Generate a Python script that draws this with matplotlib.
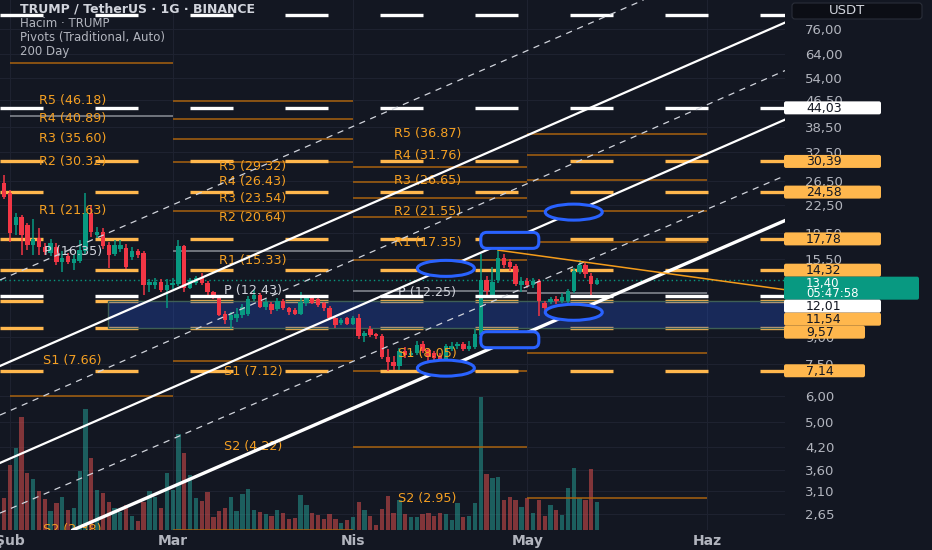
import numpy as np
import matplotlib
matplotlib.use("Agg")
import matplotlib.pyplot as plt
from matplotlib.patches import FancyBboxPatch, Ellipse, Rectangle
from matplotlib.transforms import IdentityTransform
from matplotlib.ticker import NullLocator, NullFormatter

# ---------------- data ----------------
first_day = -1  # first candle, days counted from 1 Feb 2025

opens = [26.2, 24.5, 19.6, 20.7, 19.6, 17.05, 17.9, 16.8, 16.1, 16.8, 15.2, 15.8, 15.0, 15.3, 16.3,
         21.3, 18.3, 18.7, 17.1, 16.0, 16.6, 16.7, 15.7, 16.4, 16.1, 12.9, 12.9, 13.2, 12.5, 12.9,
         13.0, 16.9, 12.7, 13.1, 13.6, 13.1, 12.3, 11.9, 10.6, 10.15, 10.3, 10.5, 10.6, 11.75, 12.06,
         11.1, 11.35, 10.95, 11.55, 11.0, 10.9, 10.6, 11.4, 11.8, 11.7, 11.4, 11.05, 10.3, 9.95, 10.25,
         9.9, 10.3, 9.05, 9.5, 9.2, 9.1, 7.85, 7.6, 7.4, 8.2, 7.95, 8.05, 8.6, 8.25, 8.1,
         7.9, 7.7, 8.3, 8.5, 8.6, 8.3, 8.4, 9.15, 13.4, 12.06, 13.4, 15.6, 15.2, 14.7, 12.9,
         13.3, 12.9, 13.3, 11.4, 11.5, 11.7, 11.6, 11.6, 12.4, 14.1, 14.8, 13.8, 13.0]
highs = [27.7, 24.9, 21.2, 21.0, 19.9, 20.4, 19.2, 17.3, 17.8, 17.3, 16.4, 16.1, 15.9, 17.7, 24.5,
         22.5, 19.3, 19.2, 17.4, 17.7, 17.6, 17.2, 16.8, 16.6, 16.3, 13.5, 13.6, 13.5, 13.5, 13.6,
         17.6, 17.1, 13.6, 13.8, 14.0, 13.3, 12.4, 12.0, 10.8, 10.7, 11.0, 11.3, 12.0, 12.5, 12.2,
         11.7, 11.5, 11.8, 11.7, 11.1, 11.0, 12.3, 12.0, 12.0, 11.9, 11.5, 11.2, 10.4, 10.3, 10.35,
         10.45, 10.6, 9.4, 9.7, 9.3, 9.2, 8.3, 7.9, 8.35, 8.4, 8.2, 8.8, 8.8, 8.35, 8.2,
         8.1, 8.6, 8.7, 8.7, 8.7, 8.8, 9.5, 16.0, 13.8, 14.6, 16.45, 16.0, 15.5, 14.9, 13.7,
         13.6, 13.6, 13.5, 11.6, 11.9, 12.0, 12.2, 12.6, 14.5, 15.4, 15.1, 14.0, 13.6]
lows = [23.5, 17.4, 18.3, 15.9, 16.5, 15.9, 15.9, 15.9, 15.8, 14.8, 14.1, 14.9, 14.3, 15.0, 16.0,
        18.0, 17.9, 16.6, 14.5, 15.8, 16.2, 14.4, 15.4, 15.6, 12.1, 12.3, 12.6, 12.3, 11.0, 12.6,
        12.8, 12.3, 12.55, 12.9, 12.9, 12.1, 11.7, 10.4, 9.9, 9.5, 10.0, 10.3, 10.4, 11.6, 11.0,
        10.9, 10.6, 10.8, 10.9, 10.5, 10.5, 10.5, 11.2, 11.3, 11.1, 10.8, 10.2, 9.6, 9.8, 9.8,
        9.8, 8.9, 8.7, 9.0, 8.9, 7.75, 7.14, 7.2, 7.2, 7.8, 7.85, 7.95, 8.1, 7.4, 7.7,
        7.6, 7.6, 8.2, 8.3, 8.2, 8.2, 8.3, 9.0, 11.9, 11.9, 13.1, 14.5, 14.2, 12.8, 12.3,
        12.7, 12.7, 10.4, 10.8, 11.3, 11.3, 11.4, 11.4, 12.2, 13.9, 13.6, 12.1, 12.9]
closes = [23.8, 18.5, 20.7, 18.3, 17.05, 17.8, 16.8, 16.2, 17.3, 15.2, 15.6, 15.2, 15.5, 16.5, 21.3,
          18.6, 18.7, 16.9, 15.9, 17.05, 17.05, 14.6, 16.4, 15.9, 12.9, 13.2, 13.2, 12.5, 12.9, 13.1,
          16.9, 12.7, 13.4, 13.6, 13.1, 12.3, 11.9, 10.5, 10.15, 10.5, 10.6, 11.1, 11.75, 12.06, 11.1,
          11.45, 10.87, 11.55, 11.0, 10.7, 10.6, 11.45, 11.8, 11.4, 11.25, 11.0, 10.3, 9.8, 10.15, 9.9,
          10.3, 9.05, 9.3, 9.15, 9.05, 7.85, 7.6, 7.4, 8.2, 7.95, 8.05, 8.55, 8.2, 7.85, 7.8,
          7.7, 8.5, 8.5, 8.6, 8.3, 8.5, 9.2, 13.4, 12.4, 13.2, 15.6, 14.8, 14.6, 13.0, 13.3,
          12.9, 13.3, 11.6, 11.0, 11.7, 11.6, 11.9, 12.4, 14.2, 14.8, 13.9, 13.0, 13.4]
volumes = [32, 65, 82, 113, 57, 51, 39, 31, 19, 27, 33, 20, 22, 59, 121, 72, 40, 37, 28, 22,
           18, 25, 14, 9, 28, 39, 33, 22, 57, 40, 96, 77, 55, 32, 29, 38, 13, 19, 22, 33,
           19, 36, 41, 20, 18, 16, 14, 20, 17, 11, 12, 35, 25, 17, 15, 11, 16, 11, 7, 10,
           13, 28, 20, 14, 5, 21, 34, 17, 30, 16, 13, 13, 16, 17, 14, 17, 16, 10, 27, 13,
           14, 27, 133, 56, 52, 53, 30, 33, 30, 23, 32, 17, 30, 14, 25, 20, 15, 42, 62, 32,
           30, 61, 28]

month_ticks = [0, 28, 59, 89, 120]
month_labels = ["Şub", "Mar", "Nis", "May", "Haz"]
price_ticks = [76, 64, 54, 46.5, 38.5, 32.5, 26.5, 22.5, 18.5, 15.5, 9, 7.5, 6, 5, 4.2, 3.6, 3.1, 2.65]

pivot_names = ["R5", "R4", "R3", "R2", "R1", "P", "S1", "S2"]
pivot_starts = [0, 28, 59, 89]
pivot_ends = [28, 59, 89, 120]
pivot_feb = [None, None, None, None, 60.1, 41.6, 6.0, None]
pivot_mar = [46.18, 40.89, 35.60, 30.32, 21.63, 16.35, 7.66, 2.38]
pivot_apr = [29.32, 26.43, 23.54, 20.64, 15.33, 12.43, 7.12, 4.22]
pivot_may = [36.87, 31.76, 26.65, 21.55, 17.35, 12.25, 8.05, 2.95]

white_levels = [83.7, 44.03, 12.01]
orange_levels = [30.39, 24.58, 17.78, 14.32, 11.54, 9.57, 7.14]
zone_low, zone_high, zone_start = 9.57, 11.54, 16.9

solid_lines = [((32.7, 13.52), (118.7, 61.4)),
               ((32.7, 6.91), (118.7, 31.37)),
               ((32.7, 3.476), (118.7, 15.63))]
dashed_lines = [((15.5, 18.08), (84.3, 60.27)),
                ((15.5, 7.12), (101.5, 32.49)),
                ((15.5, 3.59), (101.5, 15.88))]
trend_pts = [(84, 16.45), (105, 14.64)]
ellipse_pts = [(75, 14.5), (97, 21.4), (97, 10.7), (75, 7.27)]
capsule_pts = [(86, 17.6), (86, 8.85)]

tag_values = [44.03, 30.39, 24.58, 17.78, 14.32, 12.01, 11.54, 9.57, 7.14]
tag_kinds = ["white", "orange", "orange", "orange", "orange", "white", "orange", "orange_s", "orange_s"]
countdown = "05:47:58"

legend_lines = ["TRUMP / TetherUS · 1G · BINANCE", "Hacim · TRUMP", "Pivots (Traditional, Auto)", "200 Day"]

# ---------------- style ----------------
BG = "#131722"
GRID = "#1e2230"
TXT = "#b2b5be"
GREEN = "#089981"
RED = "#f23645"
VGREEN = (38 / 255, 166 / 255, 154 / 255, 0.5)
VRED = (239 / 255, 83 / 255, 80 / 255, 0.5)
PIV = "#a8620f"
PIV_P = "#8b8e97"
PIV_TXT = "#f5a023"
ORANGE = "#ffb74d"
BLUE = "#2962ff"


def fmt(v):
    return f"{v:.2f}".replace(".", ",")


fig = plt.figure(figsize=(9.32, 5.5), dpi=100, facecolor=BG)
ax = fig.add_axes([0, 20 / 550, 785 / 932, 530 / 550], facecolor=BG)
ax.set_yscale("log")
ax.set_xlim(-1.703, 133.34)
ax.set_ylim(2.372, 92.87)
ax.set_autoscale_on(False)
for s in ax.spines.values():
    s.set_visible(False)

ax.set_xticks(month_ticks)
ax.set_xticklabels(month_labels)
ax.yaxis.tick_right()
ax.set_yticks(price_ticks)
ax.set_yticklabels([fmt(v) for v in price_ticks])
ax.yaxis.set_minor_locator(NullLocator())
ax.yaxis.set_minor_formatter(NullFormatter())
ax.tick_params(axis="y", length=0, pad=14.4, labelsize=9.5, labelcolor=TXT)
ax.tick_params(axis="x", length=0, pad=3, labelsize=10, labelcolor=TXT)
for t in ax.get_xticklabels():
    t.set_fontweight("bold")
ax.grid(True, color=GRID, lw=0.8)
ax.set_axisbelow(True)

days = np.arange(first_day, first_day + len(opens))
O, H, L, C = (np.array(a, dtype=float) for a in (opens, highs, lows, closes))
up = C >= O

# volume
vol = np.array(volumes, dtype=float)
vtop = vol.max() * 530 / 133
ax.bar(days, vol / vtop, width=0.74, bottom=0, color=[VGREEN if u else VRED for u in up],
       transform=ax.get_xaxis_transform(), zorder=1, linewidth=0)

# pivots
table = [pivot_feb, pivot_mar, pivot_apr, pivot_may]
xl = ax.get_xlim()
for start, end, levels in zip(pivot_starts, pivot_ends, table):
    for name, lv in zip(pivot_names, levels):
        if lv is None:
            continue
        isp = name == "P"
        ax.hlines(lv, start, end, colors=PIV_P if isp else PIV, lw=1.1, zorder=1.5)
        lx = start - 17.2
        if lx > xl[0]:
            ax.text(lx, lv, f"{name} ({lv:.2f})", ha="center", va="center",
                    color="#d1d4dc" if isp else PIV_TXT, fontsize=9.2, zorder=4.6, clip_on=True)

# thick dashed horizontal drawings
for lv in orange_levels:
    ax.axhline(lv, color=ORANGE, lw=2.4, ls=(0, (12.9, 15.6)), zorder=2)
for lv in white_levels:
    ax.axhline(lv, color="white", lw=2.4, ls=(0, (12.9, 15.6)), zorder=5)

# zone
ax.add_patch(Rectangle((zone_start, zone_low), 140, zone_high - zone_low,
                       facecolor=(41 / 255, 98 / 255, 1, 0.25), edgecolor="#3e5f55", lw=1, zorder=3))

# candles
col = np.where(up, GREEN, RED)
ax.vlines(days, L, H, colors=col, lw=1.1, zorder=4)
lo = np.minimum(O, C)
ax.bar(days, np.maximum(np.abs(C - O), lo * 0.006), bottom=lo, width=0.76, color=col,
       zorder=4.2, linewidth=0)

# current price
ax.axhline(C[-1], color=GREEN, lw=1, ls=(0, (1, 2.2)), zorder=3.5)

# channel lines
for (p1, p2), lw in zip(solid_lines, [1.6, 1.6, 2.4]):
    ax.axline(p1, p2, color="white", lw=lw, zorder=5)
for p1, p2 in dashed_lines:
    ax.axline(p1, p2, color="#d1d4dc", lw=0.9, ls=(0, (5, 4.5)), zorder=5)

# orange trend line
(t1d, t1p), (t2d, t2p) = trend_pts
k = np.log(t2p / t1p) / (t2d - t1d)
ax.plot([t1d, xl[1]], [t1p, t1p * np.exp(k * (xl[1] - t1d))], color="#f59c1a", lw=1.1, zorder=5)

# ellipses / capsules
for dd, pp in ellipse_pts:
    cx, cy = ax.transData.transform((dd, pp))
    ax.add_artist(Ellipse((cx, cy), 57, 16, transform=IdentityTransform(), facecolor=BG,
                          edgecolor=BLUE, lw=2.2, zorder=6))
for dd, pp in capsule_pts:
    cx, cy = ax.transData.transform((dd, pp))
    ax.add_artist(FancyBboxPatch((cx - 29, cy - 8), 58, 16, boxstyle="round,pad=0,rounding_size=6",
                                 transform=IdentityTransform(), facecolor=BG, edgecolor=BLUE,
                                 lw=2.2, zorder=6))

# legend text
for i, line in enumerate(legend_lines):
    ytop = [9.5, 23.5, 37.5, 51.5][i]
    ax.text(20 / 785, 1 - ytop / 530, line, transform=ax.transAxes, va="center", ha="left",
            fontsize=9 if i == 0 else 8.5, color="#d1d4dc" if i == 0 else TXT,
            fontweight="bold" if i == 0 else "normal", zorder=4.8)

# right-hand price tags
items = []
for v, kd in zip(tag_values, tag_kinds):
    if kd == "white":
        items.append((v, [fmt(v)], "white", "#131722", 97, 13))
    elif kd == "orange":
        items.append((v, [fmt(v)], ORANGE, "#131722", 97, 13))
    else:
        items.append((v, [fmt(v)], ORANGE, "#131722", 81, 13))
items.append((C[-1], [fmt(C[-1]), countdown], GREEN, "white", 135, 23))
items.sort(key=lambda t: -t[0])
prev_bottom = 1e9
for v, texts, fc, tc, w, h in items:
    cy = ax.transData.transform((0, v))[1]
    top = min(cy + h / 2, prev_bottom)
    cy = top - h / 2
    prev_bottom = top - h
    fig.add_artist(FancyBboxPatch((784, top - h), w, h, boxstyle="round,pad=0,rounding_size=2",
                                  transform=IdentityTransform(), facecolor=fc, edgecolor="none", zorder=5))
    if len(texts) == 1:
        fig.text(806, cy - 0.5, texts[0], transform=IdentityTransform(), ha="left", va="center",
                 fontsize=9, color=tc, zorder=6)
    else:
        fig.text(806, cy + 5, texts[0], transform=IdentityTransform(), ha="left", va="center",
                 fontsize=8.5, color=tc, zorder=6)
        fig.text(806, cy - 5.5, texts[1], transform=IdentityTransform(), ha="left", va="center",
                 fontsize=8.5, color=tc, zorder=6)

# USDT button
fig.add_artist(FancyBboxPatch((792, 531), 130, 16, boxstyle="round,pad=0,rounding_size=3",
                              transform=IdentityTransform(), facecolor="#0c0e15", edgecolor="#2a2e39",
                              lw=0.8, zorder=5))
fig.text(847, 539, "USDT", transform=IdentityTransform(), ha="center", va="center",
         fontsize=9.5, color="#d1d4dc", zorder=6)

fig.savefig("out.png", dpi=100, facecolor=BG)
